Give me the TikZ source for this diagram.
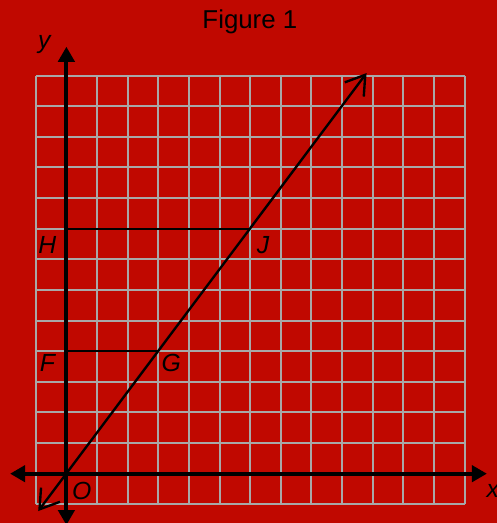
\documentclass[tikz,border=0pt]{standalone}
\usepackage{fontspec}
\setmainfont{Liberation Sans}
\usetikzlibrary{arrows.meta}
\definecolor{backred}{HTML}{C00800}
\definecolor{gridgray}{HTML}{A8A8A8}

\begin{document}
\begin{tikzpicture}[font=\fontsize{24}{28}\selectfont,line cap=butt,
    axis/.style={line width=3.6pt,
      {Triangle[length=14pt,width=15pt]}-{Triangle[length=14pt,width=15pt]}},
    ray/.style={line width=2.2pt,
      {Straight Barb[length=17pt,width=22pt]}-{Straight Barb[length=17pt,width=22pt]}},
    level/.style={line width=1.9pt},
    pt/.style={font=\fontsize{23}{27}\selectfont\itshape}]
  % Background and bounding box
  \fill[backred] (-2.168,-1.610) rectangle (14.058,15.465);
  \useasboundingbox (-2.168,-1.610) rectangle (14.058,15.465);

  \draw[gridgray,line width=1.85pt] (-1,-1) grid (13,13);

  \coordinate (O) at (0,0);
  \coordinate (F) at (0,4);
  \coordinate (G) at (3,4);
  \coordinate (H) at (0,8);
  \coordinate (J) at (6,8);
  \coordinate (xmin) at (-1.84,0);
  \coordinate (xmax) at (13.73,0);
  \coordinate (ymin) at (0,-1.68);
  \coordinate (ymax) at (0,13.94);
  \coordinate (lo) at (-0.92,-1.22);
  \coordinate (hi) at (9.8,13.08);

  % Axes
  \draw[axis] (xmin) -- (xmax);
  \draw[axis] (ymin) -- (ymax);

  % Line through the origin and the two horizontals
  \draw[ray] (lo) -- (hi);
  \draw[level] (F) -- (G);
  \draw[level] (H) -- (J);

  \node[pt] (Hlbl) at (-0.62,7.47) {H};
  \node[pt] (Jlbl) at (6.42,7.47) {J};
  \node[pt] (Flbl) at (-0.62,3.62) {F};
  \node[pt] (Glbl) at (3.42,3.62) {G};
  \node[pt] (Olbl) at (0.5,-0.55) {O};
  \node[pt] (ylbl) at (-0.72,14.0) {y};
  \node[pt] (xlbl) at (13.92,-0.55) {x};

  \node (title) at (5.99,14.75) {Figure 1};
\end{tikzpicture}
\end{document}
